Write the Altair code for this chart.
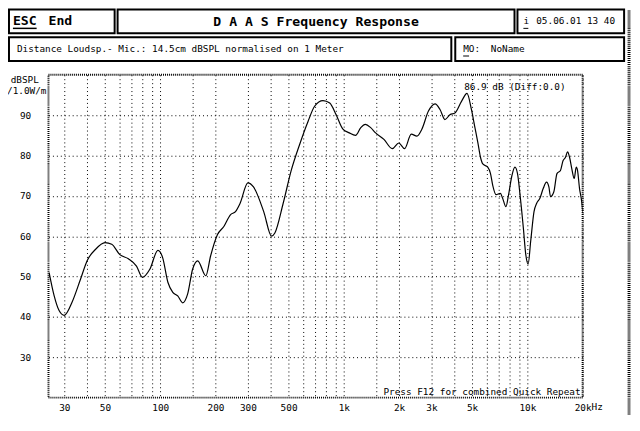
import altair as alt
import pandas as pd

# ---------------- data ----------------
freq_hz = [24.8, 26.4, 28.1, 30, 33.1, 36.8, 40, 44.3, 50, 54.4, 60, 67, 74.2, 80, 87.7, 97.1,
           103, 110, 117, 124.5, 132.5, 141, 150, 160, 177, 188, 205, 222, 241, 257, 272, 300,
           322, 366, 404, 421, 467, 517, 575, 639, 693, 770, 838, 908, 986, 1071, 1159, 1237,
           1311, 1401, 1490, 1654, 1836, 1992, 2144, 2330, 2502, 2661, 2891, 3141, 3342, 3555,
           3785, 4028, 4376, 4689, 4956, 5160, 5373, 5557, 5716, 6083, 6297, 6475, 6750, 7125,
           7330, 7642, 7891, 8244, 8553, 8835, 9124, 9509, 9798, 10094, 10427, 10868, 11224,
           11699, 12194, 12711, 13098, 13372, 13938, 14494, 15146, 15638, 16114, 16565, 16988,
           17466, 17995, 18456, 18757, 19237, 19776, 20053]
spl_db = [51.0, 45.3, 41.6, 40.4, 43.7, 49.4, 54.0, 56.7, 58.4, 58.0, 55.5, 54.4, 52.6, 49.8, 51.8, 56.5,
          54.7, 48.6, 46.1, 45.2, 43.5, 45.7, 51.8, 53.9, 50.2, 55.1, 60.4, 62.4, 65.3, 66.1, 68.1, 73.2,
          72.2, 66.1, 60.0, 60.8, 68.1, 76.3, 82.8, 88.5, 92.2, 93.6, 93.0, 90.1, 86.6, 85.6, 85.0, 86.9,
          87.7, 86.9, 85.6, 84.0, 81.7, 83.1, 81.7, 85.3, 84.8, 86.5, 91.0, 92.8, 91.4, 88.9,
          90.1, 90.5, 93.4, 95.4, 91.4, 87.3, 83.2, 79.5, 77.9, 77.1, 75.5, 72.6, 70.3, 70.6,
          69.4, 67.3, 70.2, 75.1, 77.1, 75.5, 70.2, 62.0, 55.5, 53.1, 58.8, 66.1, 68.1,
          69.4, 71.8, 73.4, 72.2, 69.8, 71.0, 75.5, 76.3, 78.7, 79.5, 80.9, 79.5,
          76.7, 74.3, 77.1, 76.3, 71.8, 68.5, 65.7]

x_grid_hz = [30, 40, 50, 60, 70, 80, 90, 100, 150, 200, 300, 400, 500, 600, 700, 800, 900,
             1000, 1500, 2000, 3000, 4000, 5000, 6000, 7000, 8000, 9000, 10000, 20000]
x_label_hz = [30, 50, 100, 200, 300, 500, 1000, 2000, 3000, 5000, 10000, 20000]
x_label_txt = ["30", "50", "100", "200", "300", "500", "1k", "2k", "3k", "5k", "10k", "20k"]
y_grid_db = [30, 40, 50, 60, 70, 80, 90]

title_txt = "D A A S  Frequency Response"
info_txt = "Distance Loudsp.- Mic.: 14.5cm dBSPL normalised on 1 Meter"
date_txt = "05.06.01 13 40"
level_txt = "86.9 dB (Diff:0.0)"
hint_txt = "Press F12 for combined Quick Repeat"

MONO = "DejaVu Sans Mono"
W, H = 541, 327
PX0, PY0 = 49, 73   # page position of the plot area's top-left corner


def P(x):
    return x - PX0


def Q(y):
    return y - PY0


one = pd.DataFrame({"k": [0]})


def txt(s, x, y, size=9.5, weight="normal", align="left", color="black"):
    return alt.Chart(one).mark_text(
        text=s, font=MONO, fontSize=size, fontWeight=weight, align=align,
        baseline="middle", color=color
    ).encode(x=alt.value(P(x)), y=alt.value(Q(y)))


def box(x1, y1, x2, y2):
    return alt.Chart(one).mark_rect(fill="white", stroke="black", strokeWidth=2).encode(
        x=alt.value(P(x1)), x2=alt.value(P(x2)), y=alt.value(Q(y1)), y2=alt.value(Q(y2)))


def hline(x1, x2, y, w=1):
    return alt.Chart(one).mark_rule(color="black", strokeWidth=w).encode(
        x=alt.value(P(x1)), x2=alt.value(P(x2)), y=alt.value(Q(y)))


label_expr = "".join(
    f"datum.value == {v} ? '{t}' : " for v, t in zip(x_label_hz, x_label_txt)) + "''"

df = pd.DataFrame({"freq": freq_hz, "db": spl_db})

curve = alt.Chart(df).mark_line(color="black", strokeWidth=1.2, clip=True, interpolate="monotone").encode(
    x=alt.X("freq:Q",
            scale=alt.Scale(type="log", domain=[24.6, 20000], nice=False),
            axis=alt.Axis(values=x_grid_hz, labelExpr=label_expr, grid=True, gridColor="black",
                          gridDash=[1, 3], gridWidth=1, ticks=False, tickSize=0, domain=False,
                          labelFont=MONO, labelFontSize=9.5, labelColor="black", labelPadding=5,
                          labelFlush=False, labelOverlap=False, labelBaseline="top", title=None)),
    y=alt.Y("db:Q",
            scale=alt.Scale(domain=[20, 100], nice=False, zero=False),
            axis=alt.Axis(values=y_grid_db, grid=True, gridColor="black", gridDash=[1, 3],
                          gridWidth=1, ticks=False, tickSize=0, domain=False, labelFont=MONO,
                          labelFontSize=9.5, labelColor="black", labelPadding=18, title=None)),
)

layers = [
    curve,
    # header boxes
    box(9, 7, 116, 31), box(119, 7, 521, 31), box(524, 7, 632, 31),
    box(9, 35, 457, 59), box(461, 35, 632, 59),
    txt("ESC", 13, 19, size=13.3, weight="bold"), hline(13, 37, 26, 1.5),
    txt("End", 49, 19, size=13.3, weight="bold"),
    txt(title_txt, 320, 20, size=13.3, weight="bold", align="center"),
    txt("i", 530, 19), hline(530, 535, 26, 1),
    txt(date_txt, 543, 19),
    txt(info_txt, 17, 47),
    txt("MO:", 469, 47), hline(469, 475, 54, 1),
    txt("NoName", 497, 47),
    # axis titles
    txt("dBSPL", 25, 78, size=9.5, align="center"),
    txt("/1.0W/m", 27, 89, size=9.5, align="center"),
    txt("Hz", 599, 410, size=9.5),
    # in-plot texts
    txt(level_txt, 470, 85),
    txt(hint_txt, 588, 394, align="right"),
    # outer window frame (right side)
    alt.Chart(one).mark_rule(color="black", strokeWidth=3, strokeDash=[1, 1]).encode(
        x=alt.value(P(637)), y=alt.value(Q(8)), y2=alt.value(Q(418))),
]

chart = alt.layer(*layers).properties(
    width=W, height=H,
    autosize=alt.AutoSizeParams(type="none"),
    padding={"left": 41, "top": 65, "right": 50, "bottom": 18},
    background="white",
).configure_view(stroke="black", strokeWidth=2, strokeDash=[1, 1])

chart.save("out.html", embed_options={"renderer": "svg", "actions": False})
